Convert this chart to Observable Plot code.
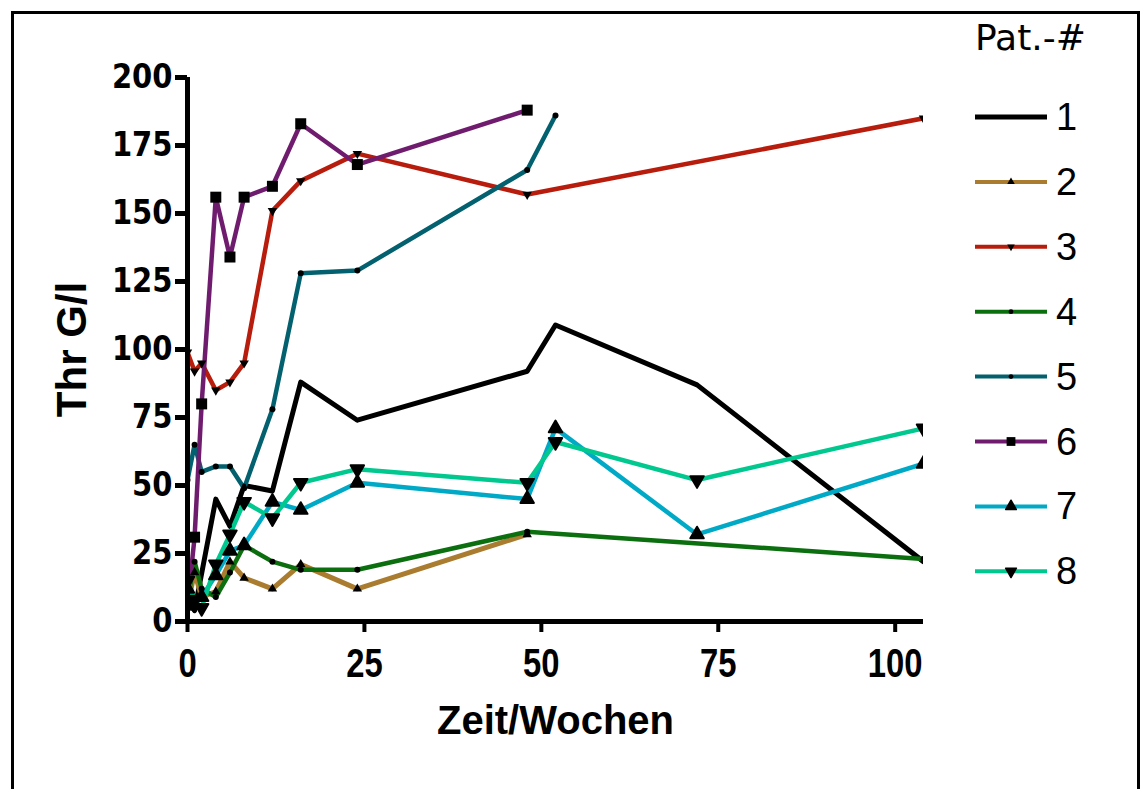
<!DOCTYPE html>
<html><head><meta charset="utf-8">
<script src="https://cdn.jsdelivr.net/npm/d3@7"></script>
<script src="https://cdn.jsdelivr.net/npm/@observablehq/plot@0.6"></script>
<style>
body{margin:0;background:#fff;}
#wrap{position:relative;width:1143px;height:789px;overflow:hidden;background:#fff;}
#frame{position:absolute;left:11px;top:11px;width:1123px;height:820px;border:3px solid #000;border-bottom:none;}
#chart{position:absolute;left:0;top:0;}
#legend{position:absolute;left:950px;top:0;}
</style></head><body>
<div id="wrap"><div id="frame"></div><div id="chart"></div><div id="legend"></div></div>
<script>
// ---- data ----
const patients = ["1","2","3","4","5","6","7","8"];
const colors = ["#000000","#A97C2F","#B71C0C","#0B6E0F","#03606E","#701C6E","#00A9C6","#00C88E"];
const xTicks = [0,25,50,75,100];
const yTicks = [0,25,50,75,100,125,150,175,200];

const p1Weeks = [0,1,4,6,8,12,16,24,48,52,72,104];
const p1Thr   = [8,4,45,35,50,48,88,74,92,109,87,22];
const p2Weeks = [0,1,2,4,6,8,12,16,24,48];
const p2Thr   = [6,18,9,11,22,16,12,21,12,32];
const p3Weeks = [0,1,2,4,6,8,12,16,24,48,104];
const p3Thr   = [99,92,95,85,88,95,151,162,172,157,185];
const p4Weeks = [0,1,2,4,6,8,12,16,24,48,104];
const p4Thr   = [8,22,12,9,18,28,22,19,19,33,23];
const p5Weeks = [0,1,2,4,6,8,12,16,24,48,52];
const p5Thr   = [52,65,55,57,57,49,78,128,129,166,186];
const p6Weeks = [0,1,2,4,6,8,12,16,24,48];
const p6Thr   = [6,31,80,156,134,156,160,183,168,188];
const p7Weeks = [0,1,2,4,6,8,12,16,24,48,52,72,104];
const p7Thr   = [12,6,9,17,26,28,44,41,51,45,71,32,58];
const p8Weeks = [0,1,2,4,6,8,12,16,24,48,52,72,104];
const p8Thr   = [15,8,5,21,32,44,38,51,56,51,66,52,71];

const weeksList = [p1Weeks,p2Weeks,p3Weeks,p4Weeks,p5Weeks,p6Weeks,p7Weeks,p8Weeks];
const thrList = [p1Thr,p2Thr,p3Thr,p4Thr,p5Thr,p6Thr,p7Thr,p8Thr];

// ---- symbols ----
const S3 = Math.sqrt(3);
const triUp = {draw(ctx, size){ const y = -Math.sqrt(size/(S3*3)); ctx.moveTo(0,2*y); ctx.lineTo(-S3*y,-y); ctx.lineTo(S3*y,-y); ctx.closePath(); }};
const triDown = {draw(ctx, size){ const y = Math.sqrt(size/(S3*3)); ctx.moveTo(0,2*y); ctx.lineTo(S3*y,-y); ctx.lineTo(-S3*y,-y); ctx.closePath(); }};
const symbols = ["circle", triUp, triDown, "circle", "circle", "square", triUp, triDown];
const radii = [2, 3.5, 3.5, 3, 3, 6.2, 5, 5];
const strokeW = [0, 0, 0, 0, 0, 0, 2, 2];
const lineW = [5, 5, 4.5, 4.5, 4.5, 4.5, 4.5, 4.5];

const rows = patients.flatMap((p,i) => weeksList[i].map((w,j) => ({pat:p, week:w, thr:thrList[i][j]})));

const lineMarks = patients.map((p,i) => Plot.line(rows.filter(d=>d.pat===p), {x:"week", y:"thr", stroke:colors[i], strokeWidth:lineW[i], clip:true}));
const dotMarks = patients.map((p,i) => Plot.dot(rows.filter(d=>d.pat===p), {x:"week", y:"thr", symbol:symbols[i], r:radii[i], fill:"black", stroke: strokeW[i] ? "black" : "none", strokeWidth:strokeW[i], strokeLinejoin:"round", clip:true}));

const chart = Plot.plot({
  width:1143, height:789,
  marginLeft:187, marginRight:220, marginTop:77, marginBottom:168,
  x:{domain:[0,104]}, y:{domain:[0,200]},
  style:{background:"transparent", fontFamily:"'Liberation Sans', Arial, sans-serif", color:"black"},
  marks:[
    ...lineMarks,
    ...dotMarks,
    Plot.ruleX([0], {y1:0, y2:200, strokeWidth:5, stroke:"black"}),
    Plot.ruleY([0], {x1:0, x2:104, strokeWidth:5, stroke:"black"}),
    Plot.axisY({ticks:yTicks, tickSize:12, strokeWidth:5, tickPadding:3, fontSize:33, fontWeight:"bold", fontFamily:"'DejaVu Sans', sans-serif", label:null}),
    Plot.axisX({ticks:xTicks, tickSize:11, strokeWidth:4, tickPadding:15, fontSize:41, fontWeight:"bold", label:null}),
    Plot.text(["Zeit/Wochen"], {frameAnchor:"bottom", dy:112, fontSize:40, fontWeight:"bold", fill:"black"}),
    Plot.text(["Thr G/l"], {frameAnchor:"left", textAnchor:"middle", rotate:-90, dx:-115, fontSize:42, fontWeight:"bold", fill:"black"})
  ]
});
document.getElementById("chart").appendChild(chart);
// condense x tick labels, slightly narrow y tick labels
d3.select(chart).selectAll('g[aria-label="x-axis tick label"] text').each(function(){
  const t = this.getAttribute("transform") || "";
  this.setAttribute("transform", t + " scale(0.8,1)");
});
d3.select(chart).selectAll('g[aria-label="y-axis tick label"] text').each(function(){
  const t = this.getAttribute("transform") || "";
  this.setAttribute("transform", t + " scale(0.88,1)");
});

// ---- legend ----
const lg = d3.select("#legend").append("svg").attr("width",190).attr("height",620);
const ox = 950;
lg.append("text").attr("x",975-ox).attr("y",50).attr("font-family","'DejaVu Sans', sans-serif").attr("font-size",36).text("Pat.-#");
patients.forEach((p,i) => {
  const cy = 117 + 64.9*i;
  const g = lg.append("g");
  g.append("line").attr("x1",975-ox).attr("x2",1047-ox).attr("y1",cy).attr("y2",cy).attr("stroke",colors[i]).attr("stroke-width", i===0?5:4);
  const sym = typeof symbols[i] === "string" ? (symbols[i]==="circle"? d3.symbolCircle : d3.symbolSquare) : symbols[i];
  g.append("path").attr("transform",`translate(${1011-ox},${cy})`).attr("d", d3.symbol(sym, Math.PI*Math.pow(radii[i]*0.8,2))()).attr("fill","black").attr("stroke", strokeW[i]?"black":"none").attr("stroke-width",1.5).attr("stroke-linejoin","round");
  g.append("text").attr("x",1056-ox).attr("y",cy+13).attr("font-family","'Liberation Sans', Arial, sans-serif").attr("font-size",38).text(p);
});
</script>
</body></html>
